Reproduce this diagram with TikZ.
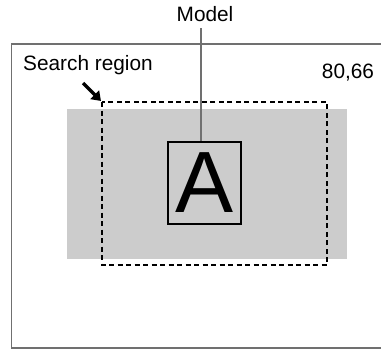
\documentclass[tikz,border=0pt]{standalone}
\usepackage{fontspec}
\setmainfont{Liberation Sans}
\usetikzlibrary{arrows.meta}
\definecolor{framegray}{HTML}{707070}
\definecolor{fillgray}{HTML}{CCCCCC}
\begin{document}
\begin{tikzpicture}[x=1pt,y=-1pt,
  lbl/.style={inner sep=0pt,font=\fontsize{20.8}{24}\selectfont},
  framestyle/.style={draw=framegray,line width=1.9pt},
  searchbox/.style={draw=black,dashed,dash pattern=on 5pt off 3.5pt,line width=1.2pt},
  modelbox/.style={draw=black,line width=1.1pt,fill=fillgray,minimum width=73pt,minimum height=82pt,inner sep=0pt,font=\fontsize{87}{90}\selectfont},
  leader/.style={draw=framegray,line width=1.7pt},
  pointer/.style={draw=black,line width=3.4pt,-{Triangle[length=9pt,width=12pt]}}]
\useasboundingbox (0,0) rectangle (381,351);
\fill[white] (0,0) rectangle (381,351);
% outer frame
\draw[framestyle] (381,44) -- (11.5,44) -- (11.5,348) -- (381,348);
% gray area
\fill[fillgray] (67,109) rectangle (347,259);
% search region dashed
\draw[searchbox] (102,102) rectangle (327,265);
\coordinate (scorner) at (101,101);
% model box
\node[modelbox] (box) at (204.5,183) {A};
% labels
\node[lbl,anchor=base] (model) at (205,21) {Model};
\node[lbl,anchor=base west] (search) at (23,70) {Search region};
\node[lbl,anchor=base] (coord) at (348,78) {80,66};
% leader line
\coordinate (ltop) at (201,28);
\draw[leader] (ltop) -- (ltop |- box.north);
% pointer arrow
\coordinate (atail) at (83,83);
\draw[pointer] (atail) -- (scorner);
\end{tikzpicture}
\end{document}
